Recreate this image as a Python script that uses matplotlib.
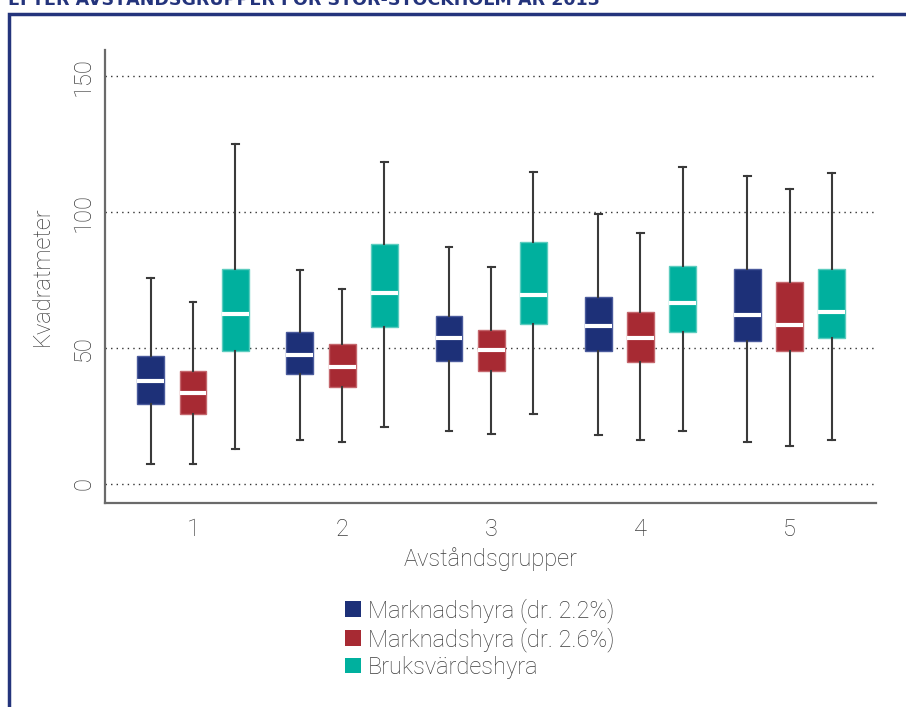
import matplotlib
matplotlib.use("Agg")
import matplotlib.pyplot as plt
from matplotlib.patches import Patch, Rectangle

# Area (m²) per distance group: whisker low, Q1, median, Q3, whisker high
groups = [1, 2, 3, 4, 5]
series_names = ["Marknadshyra (dr. 2.2%)", "Marknadshyra (dr. 2.6%)", "Bruksvärdeshyra"]

mh22_low = [7.5, 16.2, 19.5, 17.9, 15.4]
mh22_q1 = [29.3, 40.3, 45.2, 49.0, 52.5]
mh22_med = [38.0, 47.5, 53.7, 58.0, 62.0]
mh22_q3 = [47.1, 55.9, 61.8, 68.9, 79.0]
mh22_high = [75.6, 78.8, 87.1, 99.3, 113.3]

mh26_low = [7.5, 15.3, 18.4, 16.2, 14.0]
mh26_q1 = [25.6, 35.7, 41.5, 44.7, 49.0]
mh26_med = [33.5, 43.1, 49.3, 53.6, 58.3]
mh26_q3 = [41.4, 51.5, 56.6, 63.1, 74.1]
mh26_high = [66.9, 71.7, 79.8, 92.3, 108.3]

bv_low = [12.9, 21.1, 25.7, 19.6, 16.2]
bv_q1 = [48.9, 57.8, 58.8, 55.9, 53.6]
bv_med = [62.6, 70.3, 69.5, 66.4, 63.2]
bv_q3 = [79.0, 88.1, 89.0, 80.1, 79.0]
bv_high = [125.0, 118.5, 114.7, 116.7, 114.5]

COLORS = ["#1d3078", "#a72a33", "#00b09e"]
EDGES = ["#4a5a9c", "#c4666c", "#5cccbf"]
TEXT = "#3c3c3c"
FRAME = "#24347c"

plt.rcParams["font.family"] = ["Roboto", "DejaVu Sans"]
plt.rcParams["font.weight"] = "light"


def make_stats(low, q1, med, q3, high):
    return [{"whislo": a, "q1": b, "med": c, "q3": d, "whishi": e, "fliers": []}
            for a, b, c, d, e in zip(low, q1, med, q3, high)]


all_stats = [
    make_stats(mh22_low, mh22_q1, mh22_med, mh22_q3, mh22_high),
    make_stats(mh26_low, mh26_q1, mh26_med, mh26_q3, mh26_high),
    make_stats(bv_low, bv_q1, bv_med, bv_q3, bv_high),
]

fig = plt.figure(figsize=(9.06, 7.07), dpi=100)
ax = fig.add_axes([0.1159, 0.2885, 0.851, 0.6408])

offsets = [-0.283, 0.0, 0.283]
for stats, off, col, edge in zip(all_stats, offsets, COLORS, EDGES):
    ax.bxp(stats, positions=[g + off for g in groups], widths=0.18,
           patch_artist=True, showfliers=False, manage_ticks=False,
           boxprops=dict(facecolor=col, edgecolor=edge, linewidth=1.0),
           medianprops=dict(color="white", linewidth=3.0),
           whiskerprops=dict(color="#3a3a3a", linewidth=1.5),
           capprops=dict(color="#3a3a3a", linewidth=1.5),
           capwidths=0.045, zorder=3)

ax.set_xlim(0.41, 5.58)
ax.set_ylim(-7, 159.6)
ax.set_yticks([0, 50, 100, 150])
ax.set_xticks(groups)
ax.set_xticklabels([str(g) for g in groups])
for lbl in ax.get_yticklabels():
    lbl.set_rotation(90)
    lbl.set_va("center")
ax.tick_params(length=0, labelsize=17, labelcolor=TEXT)
ax.tick_params(axis="y", pad=7)
ax.tick_params(axis="x", pad=11)
ax.yaxis.grid(True, linestyle=(0, (1, 3)), color="#333333", linewidth=1.0)
ax.set_axisbelow(True)
for side in ("top", "right"):
    ax.spines[side].set_visible(False)
for side in ("left", "bottom"):
    ax.spines[side].set_color("#6a6a6a")
    ax.spines[side].set_linewidth(1.6)

ax.set_ylabel("Kvadratmeter", fontsize=17, color=TEXT, fontweight="light", labelpad=13)
ax.set_xlabel("Avståndsgrupper", fontsize=17, color=TEXT, fontweight="light", labelpad=4)

handles = [Patch(facecolor=c, edgecolor="none") for c in COLORS]
fig.legend(handles, series_names, loc="upper left",
           bbox_to_anchor=(0.381, 1 - 598 / 707),
           frameon=False, labelcolor=TEXT,
           prop=dict(size=17, weight="light"),
           handlelength=0.65, handleheight=0.65, handletextpad=0.3,
           labelspacing=0.18, borderpad=0, borderaxespad=0)

# surrounding frame and heading along the top edge
fig.patches.append(Rectangle((9 / 906, -0.1), 1.2, 1.1 - 14 / 707,
                             transform=fig.transFigure, fill=False,
                             edgecolor=FRAME, linewidth=2.5))
fig.text(8 / 906, 1 - 5 / 707, "EFTER AVSTÅNDSGRUPPER FÖR STOR-STOCKHOLM ÅR 2013",
         fontsize=12.6, fontweight="bold", color=FRAME, va="baseline", ha="left",
         family=["Liberation Sans Narrow", "DejaVu Sans"])

fig.savefig("out.png", dpi=100)
